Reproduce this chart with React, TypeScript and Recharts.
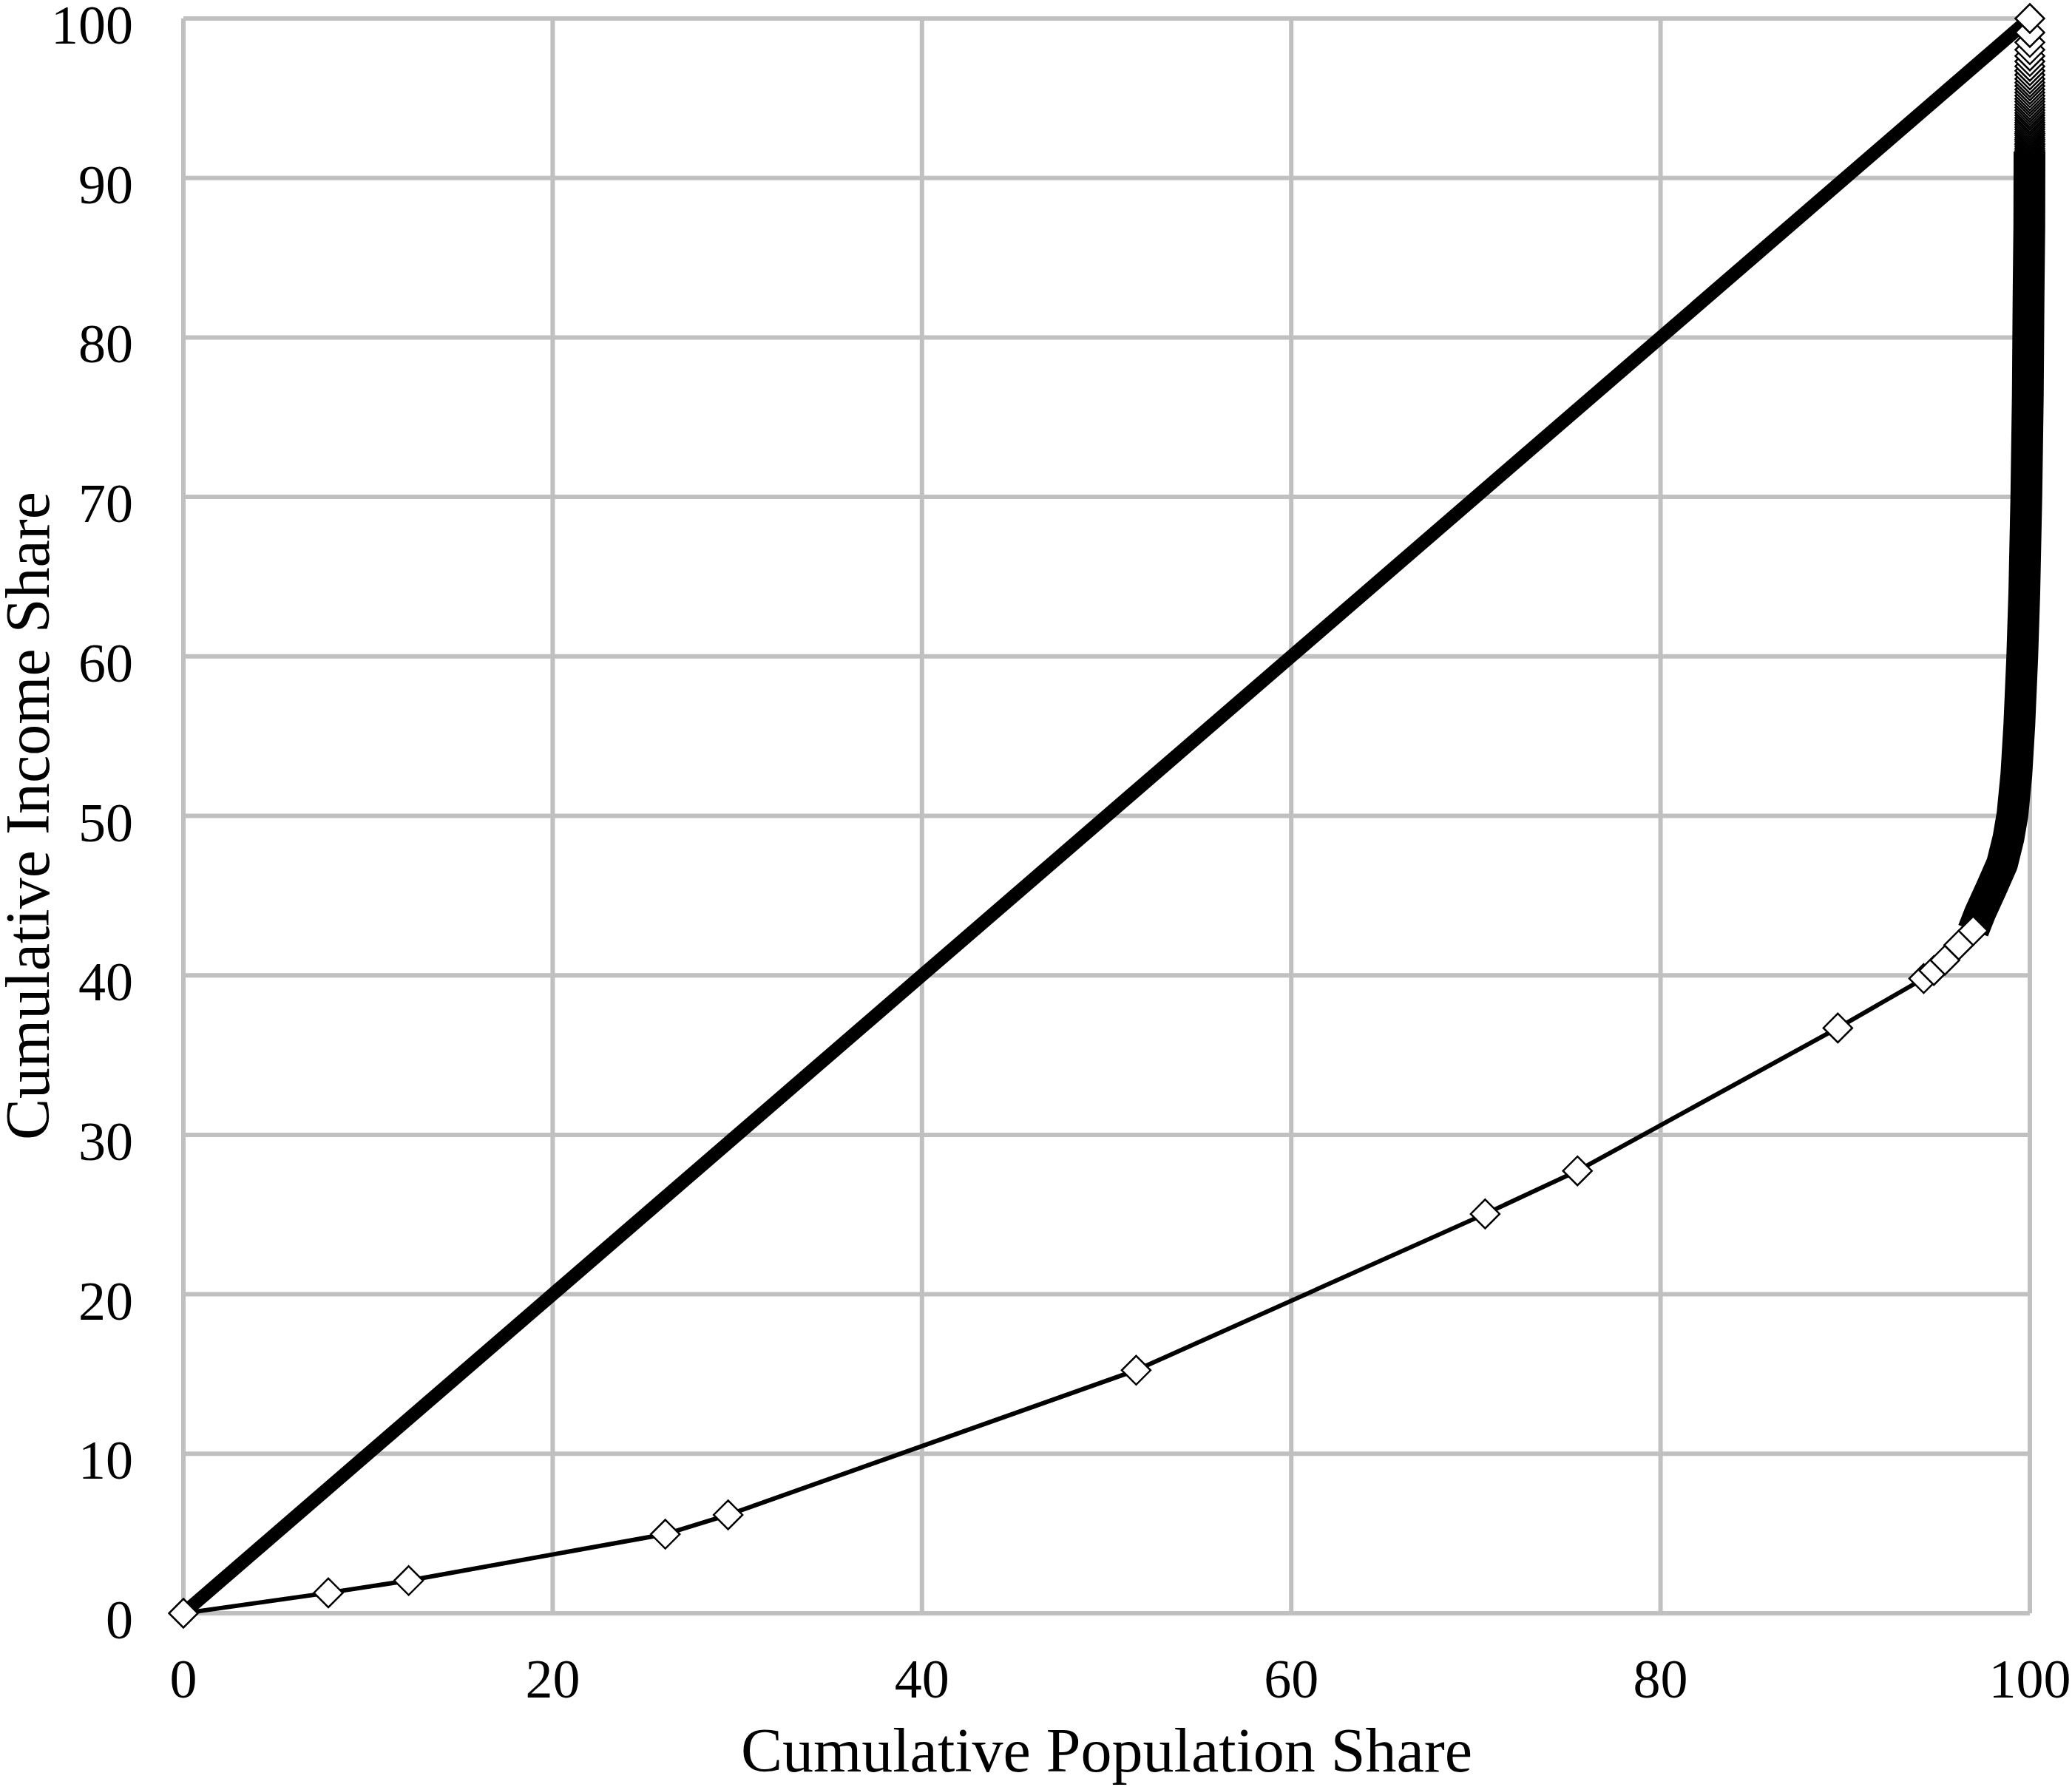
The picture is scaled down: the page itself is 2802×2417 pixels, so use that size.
import { ComposedChart, Line, XAxis, YAxis, CartesianGrid } from 'recharts'

const xTicks = [0, 20, 40, 60, 80, 100]
const yTicks = [0, 10, 20, 30, 40, 50, 60, 70, 80, 90, 100]

// Lorenz curve, lower part: one marker per group
const lowerPop = [0, 7.85, 12.2, 26.1, 29.5, 51.6, 70.5, 75.5, 89.6, 94.25, 94.8, 95.4, 96.15, 96.93]
const lowerIncome = [0, 1.28, 2.05, 4.96, 6.17, 15.24, 25.04, 27.74, 36.7, 39.8, 40.3, 40.95, 41.9, 42.8]

// the markers get so dense here that they read as one solid band
const bandPop = [96.93, 97.3, 97.93, 98.5, 98.84, 99.06, 99.27, 99.43, 99.59, 99.7, 99.81, 99.89, 99.93, 99.97, 99.98]
const bandIncome = [42.8, 43.9, 45.5, 47.0, 48.6, 50.1, 52.6, 55.7, 60.0, 64.0, 70.0, 76.4, 82.6, 87.0, 91.65]

// top groups, still visible as stacked markers at 100% population
const topIncome = [
  91.65, 91.75, 91.86, 91.97, 92.08, 92.18, 92.3, 92.42, 92.54, 92.67,
  92.79, 92.91, 93.05, 93.19, 93.33, 93.47, 93.62, 93.77, 93.93, 94.08,
  94.25, 94.42, 94.59, 94.78, 94.96, 95.15, 95.35, 95.55, 95.77, 95.98,
  96.21, 96.46, 96.72, 97.0, 97.31, 97.65, 98.04, 98.5, 99.12, 100,
]
const topPop = 100

// line of perfect equality
const equalityPop = [0, 100]
const equalityIncome = [0, 100]

const lowerData = lowerPop.map((x, i) => ({ x, y: lowerIncome[i] }))
const bandData = bandPop.map((x, i) => ({ x, y: bandIncome[i] }))
const topData = topIncome.map(y => ({ x: topPop, y }))
const equalityData = equalityPop.map((x, i) => ({ x, y: equalityIncome[i] }))

const W = 2802
const H = 2417
const PLOT_LEFT = 248
const PLOT_TOP = 25
const PLOT_RIGHT = 2745
const PLOT_BOTTOM = 2182
const FONT = '"Liberation Serif", "Times New Roman", serif'

function Diamond(props: any) {
  const { cx, cy, index } = props
  if (cx == null || cy == null) return null
  const r = 19.5
  return (
    <path
      key={`dm-${index}`}
      d={`M${cx},${cy - r}L${cx + r},${cy}L${cx},${cy + r}L${cx - r},${cy}Z`}
      fill="#fff"
      stroke="#000"
      strokeWidth={2.5}
    />
  )
}

function XTick({ x, payload }: any) {
  return (
    <text x={x} y={PLOT_BOTTOM + 114} textAnchor="middle" fontSize={74} fontFamily={FONT} fill="#000">
      {payload.value}
    </text>
  )
}

function YTick({ y, payload }: any) {
  return (
    <text x={PLOT_LEFT - 68} y={y + 34} textAnchor="end" fontSize={74} fontFamily={FONT} fill="#000">
      {payload.value}
    </text>
  )
}

const xTitle = () => (
  <text x={(PLOT_LEFT + PLOT_RIGHT) / 2} y={2396} textAnchor="middle" fontSize={84} fontFamily={FONT} fill="#000">
    Cumulative Population Share
  </text>
)

const yTitle = () => {
  const cy = (PLOT_TOP + PLOT_BOTTOM) / 2
  return (
    <text
      x={66}
      y={cy}
      transform={`rotate(-90 66 ${cy})`}
      textAnchor="middle"
      fontSize={84}
      fontFamily={FONT}
      fill="#000"
    >
      Cumulative Income Share
    </text>
  )
}

export default function App() {
  return (
    <div style={{ position: 'absolute', left: 0, top: 0, width: W, height: H, background: '#fff' }}>
      <ComposedChart
        width={W}
        height={H}
        margin={{ top: PLOT_TOP, right: W - PLOT_RIGHT, bottom: 0, left: 0 }}
      >
        <CartesianGrid stroke="#c0c0c0" strokeWidth={6} />
        <XAxis
          type="number"
          dataKey="x"
          domain={[0, 100]}
          ticks={xTicks}
          height={H - PLOT_BOTTOM}
          axisLine={false}
          tickLine={false}
          tick={<XTick />}
          label={{ content: xTitle }}
        />
        <YAxis
          type="number"
          dataKey="y"
          domain={[0, 100]}
          ticks={yTicks}
          width={PLOT_LEFT}
          axisLine={false}
          tickLine={false}
          tick={<YTick />}
          label={{ content: yTitle }}
        />
        {/* hidden twin axes, only so the equality line gets clipped to the plot */}
        <XAxis xAxisId="clip" type="number" dataKey="x" domain={[0, 100]} hide allowDataOverflow />
        <YAxis yAxisId="clip" type="number" dataKey="y" domain={[0, 100]} hide allowDataOverflow />

        <Line
          data={lowerData}
          dataKey="y"
          type="linear"
          stroke="#000"
          strokeWidth={6}
          dot={Diamond}
          activeDot={false}
          isAnimationActive={false}
        />
        <Line
          data={topData}
          dataKey="y"
          type="linear"
          stroke="none"
          dot={Diamond}
          activeDot={false}
          isAnimationActive={false}
        />
        <Line
          data={bandData}
          dataKey="y"
          type="linear"
          stroke="#000"
          strokeWidth={43}
          strokeLinejoin="round"
          strokeLinecap="butt"
          dot={false}
          activeDot={false}
          isAnimationActive={false}
        />
        <Line
          data={equalityData}
          xAxisId="clip"
          yAxisId="clip"
          dataKey="y"
          type="linear"
          stroke="#000"
          strokeWidth={18}
          strokeLinecap="butt"
          dot={false}
          activeDot={false}
          isAnimationActive={false}
        />
      </ComposedChart>
    </div>
  )
}
